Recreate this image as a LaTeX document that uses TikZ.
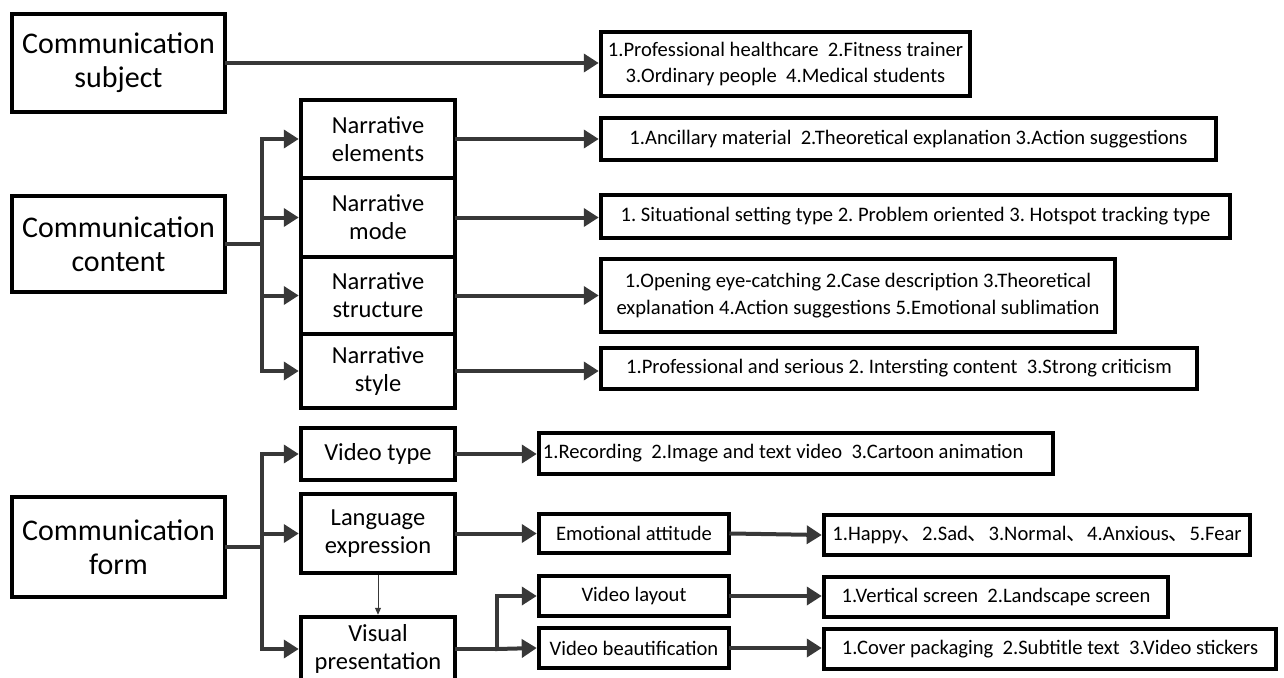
\documentclass[tikz,border=0pt]{standalone}
\usepackage{fontspec}
\setmainfont{Carlito}
\newfontfamily\cjk{Noto Sans CJK SC}
\usetikzlibrary{arrows.meta}
\frenchspacing
\definecolor{lc}{HTML}{383838}
\tikzset{
  box/.style={draw=black, line width=4.5pt, rectangle, fill=white, inner sep=2pt, align=center},
  big/.style={box, font=\fontsize{30}{34}\selectfont, minimum width=213pt},
  mid/.style={box, font=\fontsize{24.5}{28}\selectfont, minimum width=154pt},
  small/.style={box, font=\fontsize{20.6}{26.5}\selectfont\frenchspacing},
  plain/.style={font=\fontsize{20.6}{26}\selectfont, inner sep=0pt},
  arr/.style={draw=lc, line width=4pt, line cap=rect, -{Triangle[length=15pt,width=18pt]}},
  ln/.style={draw=lc, line width=4pt, line cap=rect},
  thin/.style={draw=lc, line width=1pt, -{Triangle[length=7pt,width=6pt]}}
}
\begin{document}
\begin{tikzpicture}[x=1pt,y=-1pt]
\useasboundingbox (0,0) rectangle (1284,677);
% left column
\node[big, minimum height=98pt] (subj) at (118.5,63) {Communication\\subject};
\node[big, minimum height=96pt] (cont) at (118.5,244) {Communication\\content};
\node[big, minimum height=100pt] (form) at (118.5,547) {Communication\\form};
% middle column
\node[mid, minimum height=78pt] (ne) at (378,139) {Narrative\\elements};
\node[mid, minimum height=79pt] (nm) at (378,217.5) {Narrative\\mode};
\node[mid, minimum height=77pt] (ns) at (378,295.5) {Narrative\\structure};
\node[mid, minimum height=74pt] (nst) at (378,371) {Narrative\\style};
\node[mid, minimum height=52pt] (vt) at (378,454) {Video type};
\node[mid, minimum height=79pt] (le) at (378,533.5) {Language\\expression};
\node[mid, minimum height=64pt] (vp) at (378,649) {Visual\\presentation};
% detail boxes
\node[small, minimum width=369pt, minimum height=64pt] (d1) at (785.5,64) {1.Professional healthcare\ \ 2.Fitness trainer\\3.Ordinary people\ \ 4.Medical students};
\node[small, minimum width=615pt, minimum height=42pt] (d2) at (908.5,139) {1.Ancillary material\ \ 2.Theoretical explanation 3.Action suggestions};
\node[small, minimum width=629pt, minimum height=43pt] (d3) at (915.5,216.5) {1. Situational setting type 2. Problem oriented 3. Hotspot tracking type};
\node[small, minimum width=514pt, minimum height=73pt] (d4) at (858,295.5) {1.Opening eye-catching 2.Case description 3.Theoretical\\explanation 4.Action suggestions 5.Emotional sublimation};
\node[small, minimum width=596pt, minimum height=41pt] (d5) at (899,368.5) {1.Professional and serious 2. Intersting content\ \ 3.Strong criticism};
\node[small, minimum width=514pt, minimum height=41pt] (vtd) at (796,453.5) {};
\node[plain, anchor=west] (vtdt) at ([xshift=6pt]vtd.west) {1.Recording\ \ 2.Image and text video\ \ 3.Cartoon animation};
\node[small, minimum width=190pt, minimum height=39pt] (ea) at (634,533.5) {Emotional attitude};
\node[small, minimum width=426pt, minimum height=40pt] (hap) at (1037,535) {1.Happy{\cjk 、}2.Sad{\cjk 、}3.Normal{\cjk 、}4.Anxious{\cjk 、}5.Fear};
\node[small, minimum width=190pt, minimum height=40pt] (vl) at (634,596) {Video layout};
\node[small, minimum width=190pt, minimum height=40pt] (vb) at (634,648) {Video beautification};
\node[small, minimum width=344pt, minimum height=40pt] (vsd) at (996,597) {1.Vertical screen\ \ 2.Landscape screen};
\node[small, minimum width=452pt, minimum height=40pt] (cp) at (1050,649) {1.Cover packaging\ \ 2.Subtitle text\ \ 3.Video stickers};
% branch coordinates
\coordinate (bc) at (262,244);
\coordinate (bf) at (262,547);
\coordinate (bv) at (497,649);
% connectors
\draw[arr] (subj.east |- 0,63) -- (d1.west |- 0,63);
\draw[ln] (cont.east |- bc) -- (bc);
\draw[ln] (bc |- ne) -- (bc |- nst);
\foreach \n in {ne,nm,ns,nst} \draw[arr] (bc |- \n) -- (\n.west);
\draw[arr] (ne.east) -- (ne.east -| d2.west);
\draw[arr] (nm.east) -- (nm.east -| d3.west);
\draw[arr] (ns.east) -- (ns.east -| d4.west);
\draw[arr] (nst.east) -- (nst.east -| d5.west);
\draw[ln] (form.east |- bf) -- (bf);
\draw[ln] (bf |- vt) -- (bf |- vp);
\foreach \n in {vt,le,vp} \draw[arr] (bf |- \n) -- (\n.west);
\draw[arr] (vt.east) -- (vt.east -| vtd.west);
\draw[arr] (le.east) -- (le.east -| ea.west);
\draw[arr] (ea.east) -- (hap.west);
\draw[thin] (le.south) -- (vp.north);
\draw[ln] (vp.east) -- (bv);
\draw[ln] (bv |- vl) -- (bv);
\draw[arr] (bv |- vl) -- (vl.west);
\draw[arr] (bv) -- (vb.west);
\draw[arr] (vl.east) -- (vl.east -| vsd.west);
\draw[arr] (vb.east) -- (vb.east -| cp.west);
\end{tikzpicture}
\end{document}
